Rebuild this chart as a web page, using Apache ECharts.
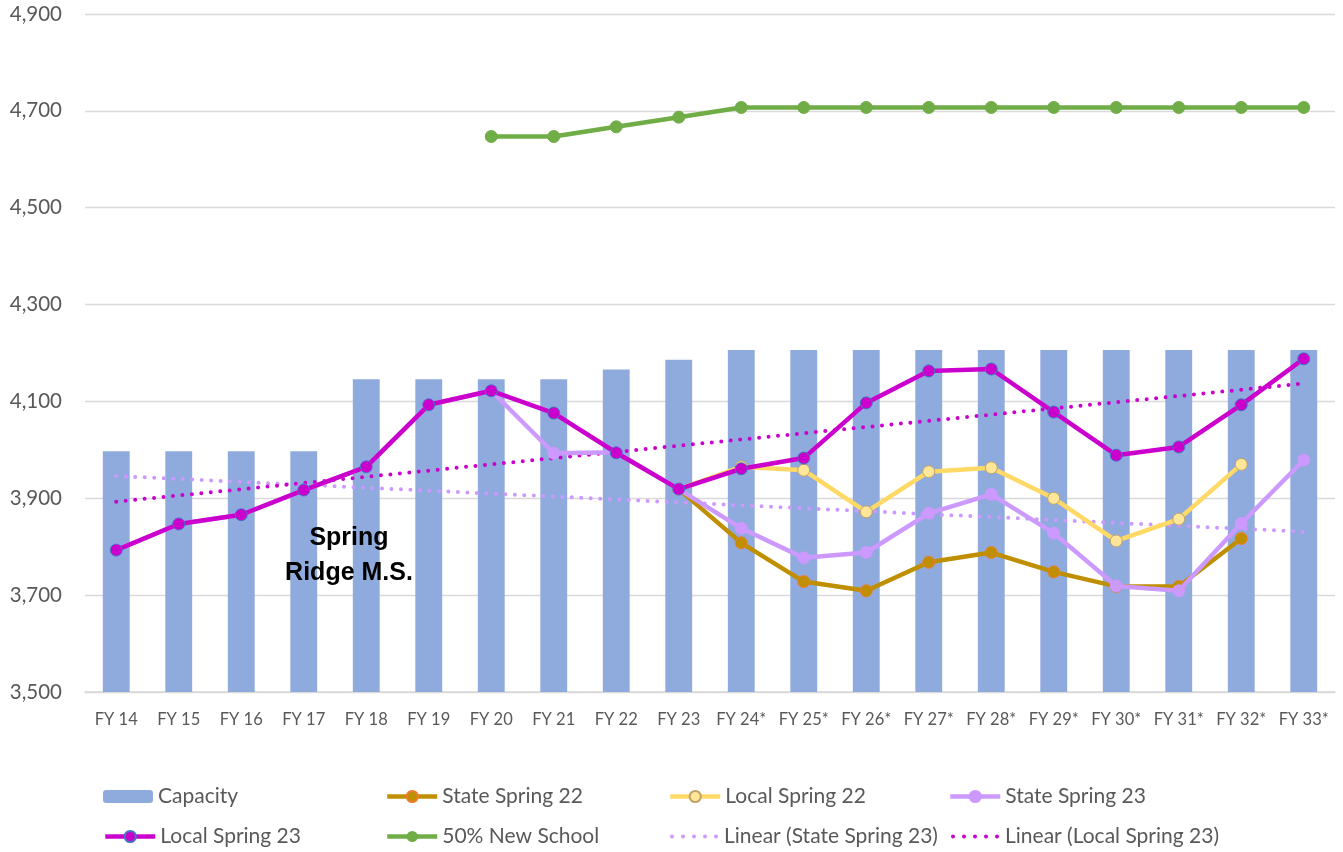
<!DOCTYPE html>
<html>
<head>
<meta charset="utf-8">
<script src="https://cdn.jsdelivr.net/npm/echarts@6/dist/echarts.min.js"></script>
<style>
html,body{margin:0;padding:0;background:#fff;}
#chart{width:1343px;height:852px;}
</style>
</head>
<body>
<div id="chart"></div>
<script>
var categories = ['FY 14','FY 15','FY 16','FY 17','FY 18','FY 19','FY 20','FY 21','FY 22','FY 23',
  'FY 24*','FY 25*','FY 26*','FY 27*','FY 28*','FY 29*','FY 30*','FY 31*','FY 32*','FY 33*'];

var capacity = [3997,3997,3997,3997,4146,4146,4146,4146,4166,4186,
  4206,4206,4206,4206,4206,4206,4206,4206,4206,4206];

var stateSpring22 = [null,null,null,null,null,null,null,null,null,3919,
  3808,3728,3709,3768,3788,3748,3718,3718,3817,null];

var localSpring22 = [null,null,null,null,null,null,null,null,null,3919,
  3965,3958,3872,3955,3963,3900,3812,3857,3970,null];

var stateSpring23 = [3793,3847,3866,3917,3965,4093,4122,3993,3995,3919,
  3838,3777,3788,3869,3908,3828,3719,3709,3848,3979];

var localSpring23 = [3793,3847,3866,3917,3965,4093,4122,4076,3994,3919,
  3961,3983,4097,4163,4167,4078,3989,4006,4093,4188];

var newSchool50 = [null,null,null,null,null,null,4647,4647,4667,4687,
  4707,4707,4707,4707,4707,4707,4707,4707,4707,4707];

// trendline endpoints (straight lines)
var linearState23 = [3946,null,null,null,null,null,null,null,null,null,
  null,null,null,null,null,null,null,null,null,3831];
var linearLocal23 = [3893,null,null,null,null,null,null,null,null,null,
  null,null,null,null,null,null,null,null,null,4137];

var yTicks = {min:3500, max:4900, interval:200};

var chart = echarts.init(document.getElementById('chart'));
var txt = '#595959';
var legendFont = {fontSize:21, color:txt, fontFamily:'Lato'};

// dotted legend icon: five round dots
var dotIcon = 'path://' + [0,11,22,33,44].map(function(o){
  return 'M' + o + ',2a2,2 0 1,0 4,0a2,2 0 1,0 -4,0z';
}).join('');

function leg(name, left, top, extra) {
  var l = {
    data:[name], left:left, top:top, orient:'horizontal',
    itemWidth:50, itemHeight:14, itemGap:0, textStyle:legendFont,
    padding:0, lineStyle:{width:4.5}
  };
  if (extra) for (var k in extra) l[k] = extra[k];
  return l;
}

var option = {
  animation:false,
  backgroundColor:'#fff',
  grid:{left:85, right:8, top:14, bottom:160, containLabel:false},
  xAxis:{
    type:'category', data:categories,
    axisLine:{show:true, lineStyle:{color:'#d9d9d9', width:1.5}},
    axisTick:{show:false},
    axisLabel:{color:txt, fontSize:16.5, fontFamily:'Lato', margin:19, interval:0}
  },
  yAxis:{
    type:'value', min:yTicks.min, max:yTicks.max, interval:yTicks.interval,
    axisLine:{show:false}, axisTick:{show:false},
    splitLine:{lineStyle:{color:'#d9d9d9', width:1.3}},
    axisLabel:{color:txt, fontSize:20.5, fontFamily:'Lato', margin:23,
      formatter:function(v){return v.toLocaleString('en-US');}}
  },
  legend:[
    leg('Capacity',103,786,{itemHeight:13}),
    leg('State Spring 22',385,786),
    leg('Local Spring 22',668,786),
    leg('State Spring 23',948,786),
    leg('Local Spring 23',103,826),
    leg('50% New School',385,826),
    leg('Linear (State Spring 23)',670,826,{itemHeight:4, itemWidth:50,
      data:[{name:'Linear (State Spring 23)', icon:dotIcon}]}),
    leg('Linear (Local Spring 23)',951,826,{itemHeight:4, itemWidth:50,
      data:[{name:'Linear (Local Spring 23)', icon:dotIcon}]})
  ],
  graphic:[{
    type:'text', x:349, y:521, z:100,
    style:{text:'Spring\nRidge M.S.', fill:'#000', font:'bold 25px "Liberation Sans", Arial',
      align:'center', textAlign:'center', lineHeight:35}
  }],
  series:[
    {name:'Capacity', type:'bar', data:capacity, barWidth:'43%',
      itemStyle:{color:'#8faadc'}, z:1},
    {name:'State Spring 22', type:'line', data:stateSpring22, symbol:'circle', symbolSize:12,
      lineStyle:{color:'#bf8f00', width:4.5}, itemStyle:{color:'#bf8f00', borderColor:'#ed7d31', borderWidth:1},
      z:3},
    {name:'Local Spring 22', type:'line', data:localSpring22, symbol:'circle', symbolSize:12,
      lineStyle:{color:'#ffd966', width:4.5}, itemStyle:{color:'#ffe699', borderColor:'#bfa36a', borderWidth:1},
      z:3},
    {name:'State Spring 23', type:'line', data:stateSpring23, symbol:'circle', symbolSize:12,
      lineStyle:{color:'#cc99ff', width:4.5}, itemStyle:{color:'#cc99ff', borderColor:'#cc99ff', borderWidth:1},
      z:4},
    {name:'Local Spring 23', type:'line', data:localSpring23, symbol:'circle', symbolSize:12,
      lineStyle:{color:'#cc00cc', width:4.5}, itemStyle:{color:'#cc00cc', borderColor:'#4472c4', borderWidth:1},
      z:5},
    {name:'50% New School', type:'line', data:newSchool50, symbol:'circle', symbolSize:12,
      lineStyle:{color:'#70ad47', width:4.5}, itemStyle:{color:'#70ad47', borderColor:'#70ad47'},
      z:5},
    {name:'Linear (State Spring 23)', type:'line', data:linearState23, connectNulls:true,
      symbol:'none', lineStyle:{color:'#cc99ff', width:4, type:[0,9.5], cap:'round'},
      itemStyle:{color:'#cc99ff'}, z:2},
    {name:'Linear (Local Spring 23)', type:'line', data:linearLocal23, connectNulls:true,
      symbol:'none', lineStyle:{color:'#cc00cc', width:4, type:[0,9.5], cap:'round'},
      itemStyle:{color:'#cc00cc'}, z:2}
  ]
};
chart.setOption(option);
</script>
</body>
</html>
